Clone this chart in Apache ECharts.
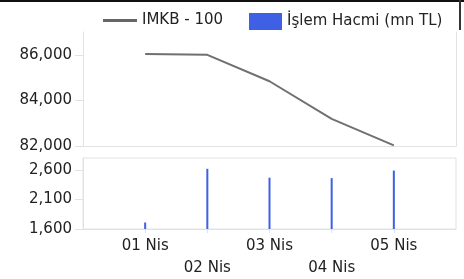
<!DOCTYPE html>
<html>

<head>
  <meta charset="utf-8">
  <title>IMKB - 100</title>
  <script src="https://cdn.jsdelivr.net/npm/echarts@6.0.0/dist/echarts.min.js"></script>
  <style>
    html, body { margin: 0; padding: 0; background: #fff; }
  </style>
</head>

<body>
  <div id="main" style="width:464px; height:279px;"></div>
  <script type="text/javascript">
    // empty slots at both ends keep the dates away from the frame
    const days = ['', '01 Nis', '02 Nis', '03 Nis', '04 Nis', '05 Nis', ''];
    const imkb = [null, 86040, 86000, 84840, 83190, 82030, null];
    const volume = [null, 1710, 2617, 2467, 2460, 2588, null];

    const textColor = '#222';
    const frameColor = '#e2e2e2';
    const font = 'DejaVu Sans';

    var myChart = echarts.init(document.getElementById('main'));

    var option = {
      animation: false,
      textStyle: { fontFamily: font },
      legend: [{
        left: 98,
        top: 8,
        icon: 'rect',
        itemWidth: 34,
        itemHeight: 3,
        itemGap: 8,
        data: ['IMKB - 100'],
        textStyle: { fontFamily: font, fontSize: 15, color: textColor }
      }, {
        left: 244,
        top: 8,
        icon: 'rect',
        itemWidth: 33,
        itemHeight: 17,
        data: ['İşlem Hacmi (mn TL)'],
        textStyle: { fontFamily: font, fontSize: 15, color: textColor }
      }],
      grid: [
        { left: 83, top: 32, right: 8, height: 114 },
        { left: 83, top: 158, right: 8, height: 71, show: true, borderColor: frameColor, borderWidth: 1 }
      ],
      xAxis: [{
        gridIndex: 0,
        type: 'category',
        data: days,
        boundaryGap: false,
        axisLine: { lineStyle: { color: frameColor } },
        axisTick: { show: false },
        axisLabel: { show: false }
      }, {
        gridIndex: 1,
        type: 'category',
        data: days,
        boundaryGap: false,
        axisLine: { lineStyle: { color: frameColor } },
        axisTick: {
          length: 4,
          interval: (i, v) => v !== '',
          lineStyle: { color: frameColor }
        },
        axisLabel: {
          interval: 0,
          margin: 6,
          fontSize: 15,
          lineHeight: 22,
          color: textColor,
          // every second date sits on a lower row
          formatter: (v, i) => (i % 2 === 0 ? '\n' + v : v)
        }
      }],
      yAxis: [{
        gridIndex: 0,
        type: 'value',
        min: 82000,
        max: 87000,
        interval: 2000,
        splitLine: { show: false },
        axisLine: { show: true, lineStyle: { color: frameColor } },
        axisTick: { show: true, length: 8, lineStyle: { color: frameColor } },
        axisLabel: {
          showMaxLabel: false,
          margin: 11,
          fontSize: 15,
          color: textColor,
          formatter: v => v.toLocaleString('en-US')
        }
      }, {
        // right edge of the upper panel
        gridIndex: 0,
        type: 'value',
        position: 'right',
        splitLine: { show: false },
        axisLine: { show: true, lineStyle: { color: frameColor } },
        axisTick: { show: false },
        axisLabel: { show: false }
      }, {
        gridIndex: 1,
        type: 'value',
        min: 1600,
        max: 2800,
        interval: 500,
        splitLine: { show: false },
        axisLine: { show: true, lineStyle: { color: frameColor } },
        axisTick: { show: true, length: 8, lineStyle: { color: frameColor } },
        axisLabel: {
          showMaxLabel: false,
          margin: 11,
          fontSize: 15,
          color: textColor,
          formatter: v => v.toLocaleString('en-US')
        }
      }],
      series: [{
        name: 'IMKB - 100',
        type: 'line',
        xAxisIndex: 0,
        yAxisIndex: 0,
        data: imkb,
        showSymbol: false,
        symbol: 'none',
        color: '#666',
        lineStyle: { color: '#707070', width: 2 }
      }, {
        name: 'İşlem Hacmi (mn TL)',
        type: 'bar',
        xAxisIndex: 1,
        yAxisIndex: 2,
        data: volume,
        barWidth: 2,
        color: '#3f5fe4'
      }],
      graphic: [
        { type: 'rect', left: 0, top: 0, shape: { width: 464, height: 2 }, style: { fill: '#111' } },
        { type: 'rect', left: 459, top: 0, shape: { width: 2, height: 30 }, style: { fill: '#333' } }
      ]
    };

    myChart.setOption(option);
  </script>
</body>

</html>
